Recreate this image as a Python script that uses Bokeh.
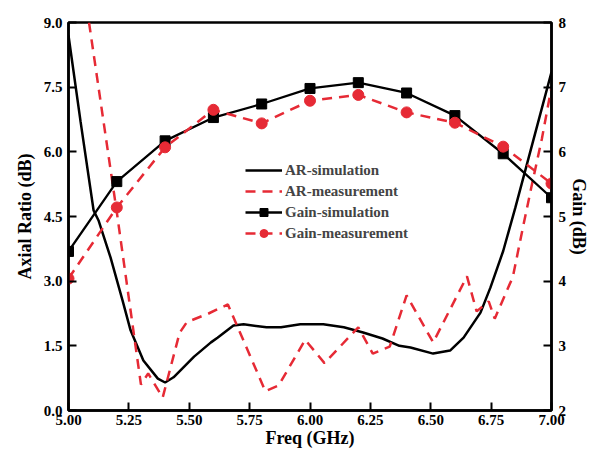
from bokeh.plotting import figure
from bokeh.models import Range1d, LinearAxis, FixedTicker, PrintfTickFormatter, Legend, LegendItem
from bokeh.embed import file_html
from bokeh.resources import INLINE

# ---- data ----
ar_sim_freq = [5.0, 5.05, 5.104, 5.125, 5.174, 5.224, 5.257, 5.31, 5.37, 5.40, 5.435, 5.52, 5.59,
               5.617, 5.683, 5.725, 5.82, 5.88, 5.96, 6.055, 6.14, 6.22, 6.30, 6.37, 6.416, 6.51,
               6.58, 6.636, 6.706, 6.747, 6.8, 6.85, 6.9, 6.95, 7.0]
ar_sim = [8.7, 6.7, 4.64, 4.4, 3.55, 2.55, 1.86, 1.16, 0.74, 0.65, 0.77, 1.25, 1.58,
          1.69, 1.97, 2.0, 1.93, 1.93, 2.0, 2.0, 1.93, 1.81, 1.67, 1.5, 1.46, 1.32,
          1.39, 1.69, 2.27, 2.85, 3.7, 4.7, 5.75, 6.8, 7.85]

ar_meas_freq = [5.085, 5.2, 5.30, 5.33, 5.39, 5.46, 5.49, 5.58, 5.66, 5.815, 5.87, 5.98, 6.06,
                6.20, 6.26, 6.33, 6.40, 6.51, 6.65, 6.69, 6.74, 6.765, 6.84, 6.88, 6.92, 6.96, 7.0]
ar_meas = [9.0, 4.6, 0.6, 0.86, 0.3, 1.8, 2.05, 2.25, 2.46, 0.45, 0.58, 1.64, 1.1,
           1.93, 1.32, 1.48, 2.67, 1.58, 3.11, 2.3, 2.53, 2.13, 3.1, 4.2, 5.27, 6.3, 7.5]

gain_freq = [5.0, 5.2, 5.4, 5.6, 5.8, 6.0, 6.2, 6.4, 6.6, 6.8, 7.0]
gain_sim = [4.46, 5.54, 6.17, 6.53, 6.74, 6.98, 7.07, 6.91, 6.56, 5.97, 5.29]
gain_meas = [4.04, 5.14, 6.07, 6.65, 6.44, 6.79, 6.88, 6.61, 6.45, 6.08, 5.51]

x_ticks = [5.0, 5.25, 5.5, 5.75, 6.0, 6.25, 6.5, 6.75, 7.0]
ar_ticks = [0.0, 1.5, 3.0, 4.5, 6.0, 7.5, 9.0]
gain_ticks = [2, 3, 4, 5, 6, 7, 8]

RED = "#e62a35"
FONT = "Liberation Serif"

p = figure(width=594, height=453, output_backend="svg", toolbar_location=None,
           x_range=Range1d(5, 7), y_range=Range1d(0, 9),
           min_border_left=68, min_border_right=43, min_border_top=22, min_border_bottom=43)
p.extra_y_ranges = {"gain": Range1d(2, 8)}
p.grid.visible = False
p.outline_line_color = "black"
p.outline_line_width = 2.5
p.background_fill_color = "white"
p.border_fill_color = "white"

r_ar_sim = p.line(ar_sim_freq, ar_sim, line_color="black", line_width=2.5)
r_ar_meas = p.line(ar_meas_freq, ar_meas, line_color=RED, line_width=2.5, line_dash="10 7")
r_gs_l = p.line(gain_freq, gain_sim, line_color="black", line_width=2.3, y_range_name="gain")
r_gs_m = p.scatter(gain_freq, gain_sim, marker="square", size=10, fill_color="black",
                   line_color="black", y_range_name="gain")
r_gm_l = p.line(gain_freq, gain_meas, line_color=RED, line_width=2.5, line_dash="10 7",
                y_range_name="gain")
r_gm_m = p.scatter(gain_freq, gain_meas, marker="circle", size=11, fill_color=RED,
                   line_color=RED, y_range_name="gain")

def style_axis(ax, label, ticks, fmt):
    ax.ticker = FixedTicker(ticks=ticks)
    ax.formatter = PrintfTickFormatter(format=fmt)
    ax.axis_label = label
    ax.axis_label_text_font = FONT
    ax.axis_label_text_font_style = "bold"
    ax.axis_label_text_font_size = "18px"
    ax.axis_label_text_color = "black"
    ax.major_label_text_font = FONT
    ax.major_label_text_font_style = "bold"
    ax.major_label_text_font_size = "15px"
    ax.major_label_text_color = "black"
    ax.axis_line_width = 2.5
    ax.axis_line_color = "black"
    ax.major_tick_in = 8
    ax.major_tick_out = 0
    ax.major_tick_line_width = 2
    ax.minor_tick_in = 0
    ax.minor_tick_out = 0
    ax.axis_label_standoff = 4

style_axis(p.xaxis[0], "Freq (GHz)", x_ticks, "%.2f")
p.xaxis[0].major_label_standoff = 4
p.xaxis[0].axis_label_standoff = 0
style_axis(p.yaxis[0], "Axial Ratio (dB)", ar_ticks, "%.1f")
p.yaxis[0].major_label_standoff = 6
p.yaxis[0].axis_label_standoff = 6

gax = LinearAxis(y_range_name="gain")
style_axis(gax, "Gain (dB)", gain_ticks, "%d")
gax.major_label_standoff = 7
gax.axis_label_standoff = 0
p.add_layout(gax, "right")

legend = Legend(items=[
    LegendItem(label="AR-simulation", renderers=[r_ar_sim]),
    LegendItem(label="AR-measurement", renderers=[r_ar_meas]),
    LegendItem(label="Gain-simulation", renderers=[r_gs_l, r_gs_m]),
    LegendItem(label="Gain-measurement", renderers=[r_gm_l, r_gm_m]),
], location=(177, 167))
legend.border_line_color = None
legend.background_fill_alpha = 0
legend.label_text_font = FONT
legend.label_text_font_style = "bold"
legend.label_text_font_size = "15px"
legend.glyph_width = 37
legend.glyph_height = 20
legend.label_height = 20
legend.label_standoff = 3
legend.spacing = 1
legend.padding = 0
legend.margin = 0
p.add_layout(legend, "center")

open("out.html", "w").write(file_html(p, INLINE))
